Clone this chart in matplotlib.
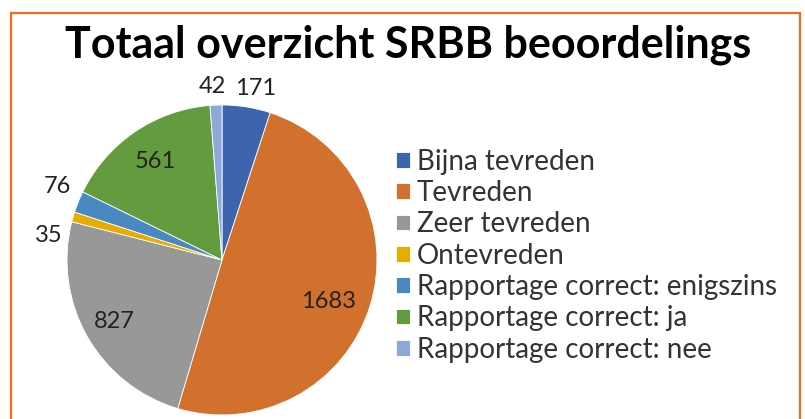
import matplotlib.pyplot as plt
import numpy as np
from matplotlib.patches import Rectangle

plt.rcParams['font.family'] = ['Lato', 'DejaVu Sans']

categories = ['Bijna tevreden', 'Tevreden', 'Zeer tevreden', 'Ontevreden',
              'Rapportage correct: enigszins', 'Rapportage correct: ja',
              'Rapportage correct: nee']
counts = [171, 1683, 827, 35, 76, 561, 42]
colors = ['#3E64AD', '#D2702D', '#989898', '#E6AC00', '#4A88C2', '#629C3E', '#8FA8DA']

# label placement (radius factor, angle shift in degrees)
label_r = [1.13, 0.74, 0.80, 1.13, 1.16, 0.77, 1.12]
label_shift = [-2, -4, 0, 8, -2, 0, 1]

W, H = 805, 419
fig = plt.figure(figsize=(W / 100, H / 100), dpi=100)

# orange frame
fig.patches.append(Rectangle((11 / W, -0.1), 789 / W, (H - 13) / H + 0.1,
                             transform=fig.transFigure, fill=False,
                             edgecolor='#F26B1D', linewidth=1.6))

fig.text(408 / W, 1 - 45 / H, 'Totaal overzicht SRBB beoordelings',
         ha='center', va='center', fontsize=31, fontweight='bold', color='black')

ax = fig.add_axes([67 / W, 4 / H, 310 / W, 310 / H])
wedges, _ = ax.pie(counts, colors=colors, startangle=90, counterclock=False,
                   radius=1, wedgeprops=dict(edgecolor='white', linewidth=0.6))
ax.set_xlim(-1, 1)
ax.set_ylim(-1, 1)
ax.set_aspect('equal')

for w, v, r, s in zip(wedges, counts, label_r, label_shift):
    a = np.deg2rad((w.theta1 + w.theta2) / 2 + s)
    ax.text(r * np.cos(a), r * np.sin(a), str(v), ha='center', va='center',
            fontsize=17, color='#222222', clip_on=False)

fig.legend(wedges, categories, loc='upper left', bbox_to_anchor=(382 / W, 1 - 135 / H),
           frameon=False, fontsize=20, handlelength=0.5, handleheight=0.5,
           handletextpad=0.25, labelspacing=0.19, borderpad=0, labelcolor='#333333')

fig.savefig('out.png', dpi=100)
